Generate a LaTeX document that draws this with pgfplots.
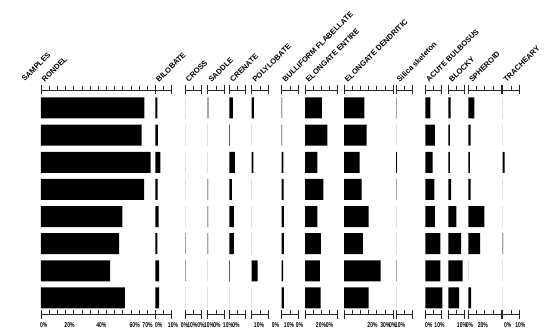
\documentclass[border=0pt]{standalone}
\usepackage{pgfplots}
\pgfplotsset{compat=1.18}
\usepackage{pgfplotstable}
\usepackage{fontspec}
\setmainfont{Liberation Sans}
\newfontfamily\narrowfont[FakeStretch=0.72]{Liberation Sans}

\pgfplotstableread{
row rondel bil cross saddle cren poly bull elent eldend silica acute blocky spher trach
1 63.3 1.2 0   0.4 2.2 1.4 0.3 10.4 12.4 0.3 3.1  1.4 3.7 0
2 61.6 1.6 0   0   0.4 0   0.3 13.7 13.9 0   5.9  1.0 1.4 0
3 67.2 3.1 0   0   3.4 1.0 1.0 7.6  9.6  0.6 4.5  1.0 1.0 1.2
4 63.1 1.4 0   0.3 1.6 0   1.2 11.2 10.8 0.3 5.5  1.8 1.4 0
5 49.8 2.0 0   0.3 2.8 0   1.3 7.6  15.1 0   5.9  4.9 9.8 0
6 47.9 1.2 0.3 0.3 2.8 0   1.3 9.8  11.6 0   9.2  7.8 7.3 0.3
7 42.4 2.4 0.3 0   0.4 3.7 0.8 9.2  22.4 0.3 9.2  8.8 0   0
8 51.4 2.4 0   0   0   0   1.3 9.6  15.1 0   10.4 6.7 1.8 0
}\datatable

\tikzset{
  ttl/.style={xshift=4pt, yshift=7pt, rotate=45, anchor=south west, inner sep=0pt,
    font=\fontsize{7.6}{8}\selectfont\bfseries},
  lbl/.style={inner sep=0pt, font=\narrowfont\fontsize{7}{8}\selectfont\bfseries},
}
\pgfplotsset{
  panel/.style={
    scale only axis, height=224pt, anchor=south west,
    xmin=0, ymin=0.337, ymax=8.59, y dir=reverse,
    axis x line=box, axis y line=none, ytick=\empty,
    axis line style={-, line width=0.5pt, black!85},
    tick style={black!85, line width=0.5pt},
    tick align=center, major tick length=9pt, minor tick length=4pt,
    every minor tick/.append style={yshift=2pt},
    xticklabels={},
    xbar, bar width=21pt,
    clip=false,
  },
}

\newcommand\panel[6]{%
\begin{axis}[panel, at={(#1pt,21pt)}, width=#2pt, xmax=#3, xtick={0,#3},
  minor xtick={#6}]
\addplot[fill=black, draw=none] table[x=#4, y=row] {\datatable};
\node[ttl] at (rel axis cs:0,1) {#5};
\end{axis}}

\begin{document}
\begin{tikzpicture}
\path[use as bounding box] (0,0) rectangle (550pt,335pt);

% RONDEL with sample labels
\begin{axis}[panel, at={(41pt,21pt)}, width=114.3pt, xmax=70, xtick={0,70},
  minor xtick={5,10,...,65},
  axis y line*=left, y axis line style={black!50},
  ytick={1,...,8}, yticklabels={Crisan 1,Crisan 2,Crisan 3,Crisan 4,Crisan 5,Crisan 6,Crisan 7,Crisan 8},
  y tick style={draw=none},
  yticklabel style={font=\fontsize{8}{9}\selectfont\bfseries, inner sep=2pt}]
\addplot[fill=black, draw=none] table[x=rondel, y=row] {\datatable};
\node[ttl] at (rel axis cs:0,1) {RONDEL};
\node[xshift=-20pt, yshift=1pt, ttl] at (rel axis cs:0,1) {SAMPLES};
\end{axis}

\panel{155.3}{16.3}{10}{bil}{BILOBATE}{5}
\panel{185}{16.3}{10}{cross}{CROSS}{5}
\panel{207.7}{16.3}{10}{saddle}{SADDLE}{5}
\panel{229.3}{16.3}{10}{cren}{CRENATE}{5}
\panel{251.7}{16.3}{10}{poly}{POLYLOBATE}{5}
\panel{281.7}{16.3}{10}{bull}{BULLIFORM FLABELLATE}{5}
\panel{305}{32.6}{20}{elent}{ELONGATE ENTIRE}{5,10,15}
\panel{344}{49}{30}{eldend}{ELONGATE DENDRITIC}{5,10,15,20,25}
\panel{396}{16.3}{10}{silica}{Silica skeleton}{5}
\panel{425.3}{16.3}{10}{acute}{ACUTE BULBOSUS}{5}
\panel{448.3}{16.3}{10}{blocky}{BLOCKY}{5}
\panel{468.3}{32.6}{20}{spher}{SPHEROID}{5,10,15}

% TRACHEARY with right border line
\begin{axis}[panel, at={(502.7pt,21pt)}, width=16.3pt, xmax=10, xtick={0,10},
  minor xtick={5}, axis y line*=right, y axis line style={black!60}, ytick=\empty]
\addplot[fill=black, draw=none] table[x=trach, y=row] {\datatable};
\node[ttl] at (rel axis cs:0,1) {TRACHEARY};
\end{axis}

% scale labels, placed as in the original figure
\foreach \x/\t in {43.8/0, 69.5/20, 101.3/40, 134.7/60, 147.5/70,
  158.8/0, 173/10, 184.5/0, 192.3/10, 201/0, 209/10, 217/0, 228/10,
  236/0, 259/10, 275.5/0, 289/10, 299.5/0, 321/20, 329.5/0, 372.5/20, 385.3/30,
  392.8/0, 400/10, 428.8/0, 439.5/10, 462/10, 469.5/0, 482.8/20, 507.8/0, 520.3/10}
  \node[lbl] at (\x pt, 10pt) {\t\%};
\end{tikzpicture}
\end{document}
